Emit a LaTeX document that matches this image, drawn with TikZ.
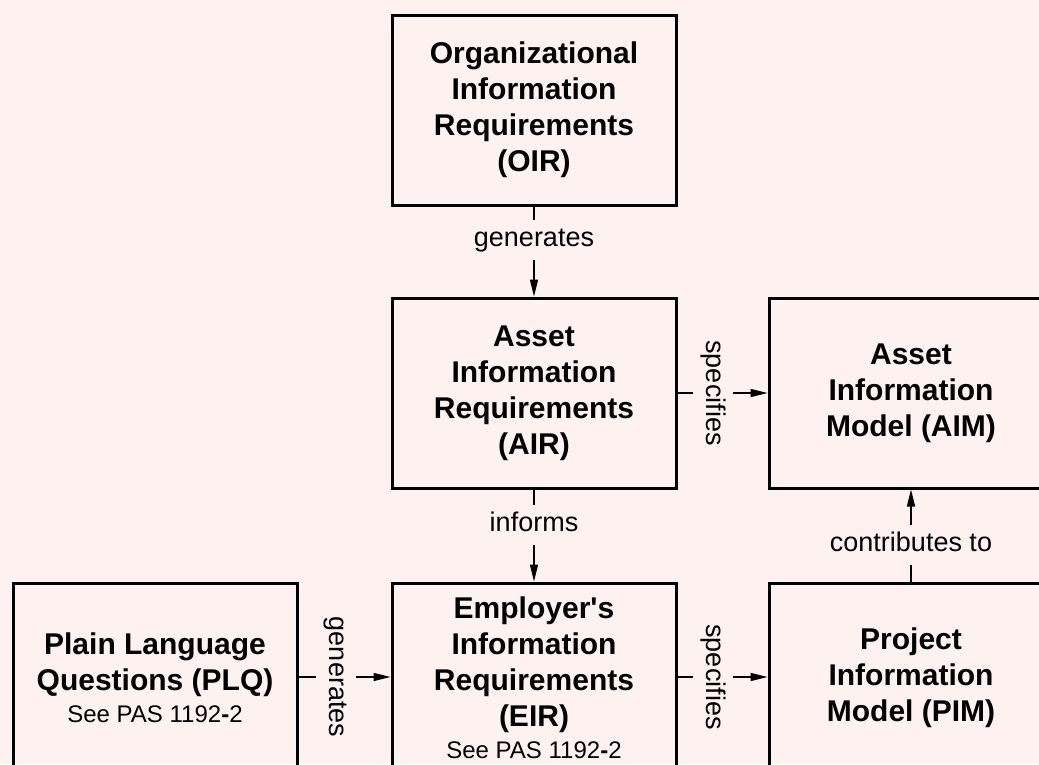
\documentclass[tikz,border=0pt]{standalone}
\usepackage{fontspec}
\setmainfont{Liberation Sans}
\usetikzlibrary{arrows.meta}
\definecolor{bgpink}{RGB}{253,242,240}
\newcommand{\pasnote}{\\[-4pt]{\fontsize{24}{29}\selectfont\mdseries See PAS 1192\textbf{-}2}}

\begin{document}
\begin{tikzpicture}
[every node/.style={inner sep=0pt},
 reqbox/.style={rectangle, minimum width=284pt, minimum height=190pt, line width=3pt, draw=black, align=center, font=\fontsize{30}{36}\selectfont\bfseries},
 verb/.style={inner sep=7pt, text height=19pt, text depth=6pt, font=\fontsize{27}{32}\selectfont},
 link/.style={line width=1.5pt, color=black},
 linkto/.style={line width=1.5pt, color=black, -{Triangle[length=17pt, width=8pt]}}]
\fill [bgpink] (0pt, 0pt) rectangle (1039pt, -764pt);
\useasboundingbox (0pt, 0pt) rectangle (1039pt, -764pt);
% boxes
\node (oir) [reqbox] at (534pt, -110pt) {Organizational\\Information\\Requirements\\(OIR)};
\node (air) [reqbox] at (534pt, -393pt) {Asset\\Information\\Requirements\\(AIR)};
\node (aim) [reqbox] at (911pt, -393pt) {Asset\\Information\\Model (AIM)};
\node (plq) [reqbox] at (155pt, -678pt) {Plain Language\\Questions (PLQ)\pasnote};
\node (eir) [reqbox] at (534pt, -678pt) {Employer\textquotesingle s\\Information\\Requirements\\(EIR)\pasnote};
\node (pim) [reqbox] at (911pt, -678pt) {Project\\Information\\Model (PIM)};
% verbs
\node (gen1) [verb] at (534pt, -240pt) {generates};
\node (spec1) [verb, rotate=-90] at (713pt, -393pt) {specifies};
\node (inf) [verb] at (534pt, -525pt) {informs};
\node (contrib) [verb] at (911pt, -545pt) {contributes to};
\node (gen2) [verb, rotate=-90] at (336pt, -677pt) {generates};
\node (spec2) [verb, rotate=-90] at (713pt, -677pt) {specifies};
% connectors
\draw [link] (oir) -- (gen1);
\draw [linkto] (gen1) -- (air);
\draw [link] (air.east |- spec1) -- (spec1);
\draw [linkto] (spec1) -- (aim.west |- spec1);
\draw [link] (air) -- (inf);
\draw [linkto] (inf) -- (eir);
\draw [link] (pim) -- (contrib);
\draw [linkto] (contrib) -- (aim);
\draw [link] (plq.east |- gen2) -- (gen2);
\draw [linkto] (gen2) -- (eir.west |- gen2);
\draw [link] (eir.east |- spec2) -- (spec2);
\draw [linkto] (spec2) -- (pim.west |- spec2);
\end{tikzpicture}
\end{document}
